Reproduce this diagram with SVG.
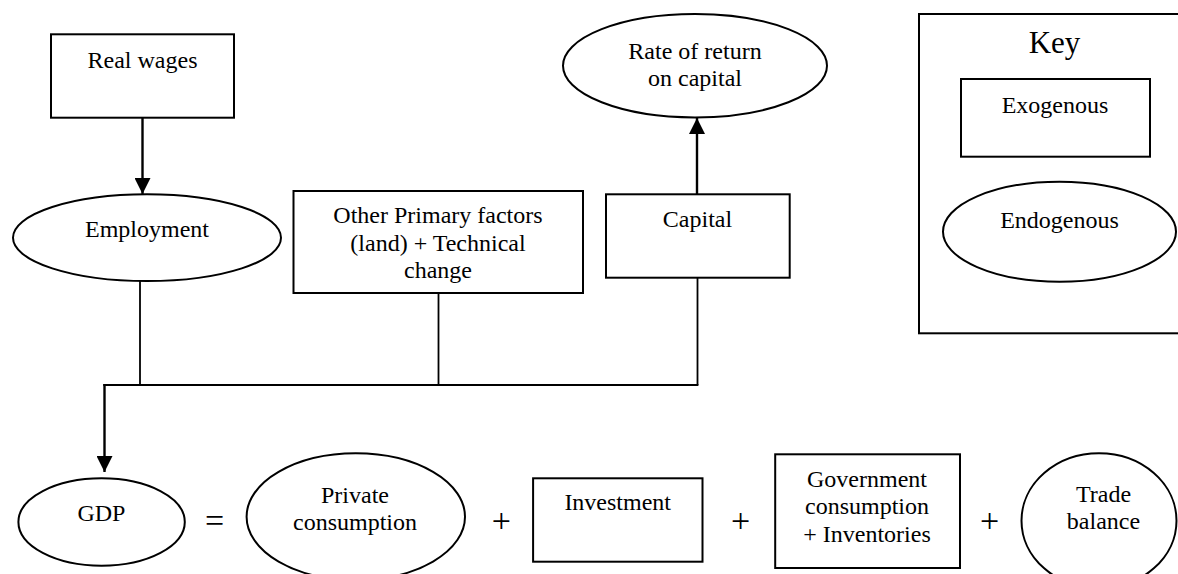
<svg xmlns="http://www.w3.org/2000/svg" width="1178" height="574" viewBox="0 0 1178 574">
  <defs>
    <style>
      .box { fill: #ffffff; stroke: #000000; stroke-width: 2; }
      .lbl { font-family: "Liberation Serif", "Times New Roman", serif; font-size: 24px; fill: #000000; text-anchor: middle; }
      .sign { font-family: "Liberation Serif", "Times New Roman", serif; font-size: 34px; fill: #000000; text-anchor: middle; }
      .key-title { font-family: "Liberation Serif", "Times New Roman", serif; font-size: 31px; fill: #000000; text-anchor: middle; }
      .link { fill: none; stroke: #000000; stroke-width: 1.8; }
      .arrow { fill: none; stroke: #000000; stroke-width: 2.4; }
    </style>
    <marker id="head" markerUnits="userSpaceOnUse" markerWidth="16" markerHeight="16" refX="16" refY="8" orient="auto" viewBox="0 0 16 16">
      <path d="M0,0 L16,8 L0,16 Z" fill="#000000"/>
    </marker>
  </defs>

  <rect width="1178" height="574" fill="#ffffff"/>

  <!-- connectors -->
  <g id="connectors">
    <line class="arrow" x1="142.5" y1="118" x2="142.5" y2="194" marker-end="url(#head)"/>
    <line class="arrow" x1="697" y1="194" x2="697" y2="118" marker-end="url(#head)"/>
    <line class="link" x1="140" y1="281" x2="140" y2="385"/>
    <line class="link" x1="438.5" y1="293" x2="438.5" y2="385"/>
    <line class="link" x1="697.5" y1="277.5" x2="697.5" y2="385"/>
    <line class="link" x1="103.3" y1="385" x2="698.4" y2="385"/>
    <line class="arrow" x1="104.5" y1="384" x2="104.5" y2="472" marker-end="url(#head)"/>
  </g>

  <!-- exogenous and endogenous variables -->
  <g id="real-wages">
    <rect class="box" x="51" y="34.3" width="183" height="83.4"/>
    <text class="lbl" x="142.5" y="68.3">Real wages</text>
  </g>

  <g id="employment">
    <ellipse class="box" cx="147" cy="237.7" rx="134" ry="43.4"/>
    <text class="lbl" x="147" y="237.3">Employment</text>
  </g>

  <g id="other-primary-factors">
    <rect class="box" x="293.5" y="191" width="289.5" height="102"/>
    <text class="lbl" x="438" y="223.3">Other Primary factors</text>
    <text class="lbl" x="438" y="250.7">(land) + Technical</text>
    <text class="lbl" x="438" y="277.7">change</text>
  </g>

  <g id="rate-of-return">
    <ellipse class="box" cx="695" cy="65.7" rx="132" ry="51.7"/>
    <text class="lbl" x="695" y="59.3">Rate of return</text>
    <text class="lbl" x="695" y="86">on capital</text>
  </g>

  <g id="capital">
    <rect class="box" x="606" y="194.3" width="183.7" height="83.4"/>
    <text class="lbl" x="697.5" y="226.7">Capital</text>
  </g>

  <!-- legend -->
  <g id="key">
    <rect class="box" x="919" y="14" width="270" height="319.3"/>
    <text class="key-title" x="1054.5" y="53.3">Key</text>
    <rect class="box" x="961" y="79" width="189" height="77.7"/>
    <text class="lbl" x="1055" y="113.3">Exogenous</text>
    <ellipse class="box" cx="1059.5" cy="231.7" rx="116.5" ry="50"/>
    <text class="lbl" x="1059.5" y="228.3">Endogenous</text>
  </g>

  <!-- GDP identity -->
  <g id="gdp">
    <ellipse class="box" cx="101.6" cy="522" rx="83.2" ry="43.7"/>
    <text class="lbl" x="101.4" y="520.7">GDP</text>
  </g>
  <text class="sign" x="214.5" y="532">=</text>

  <g id="private-consumption">
    <ellipse class="box" cx="355.8" cy="516.7" rx="109.2" ry="63.4"/>
    <text class="lbl" x="355" y="502.7">Private</text>
    <text class="lbl" x="355" y="530">consumption</text>
  </g>
  <text class="sign" x="501.3" y="532">+</text>

  <g id="investment">
    <rect class="box" x="533.1" y="478.3" width="169.4" height="83.4"/>
    <text class="lbl" x="617.7" y="510">Investment</text>
  </g>
  <text class="sign" x="740.7" y="532">+</text>

  <g id="government-consumption">
    <rect class="box" x="775.2" y="454.3" width="184.8" height="113.7"/>
    <text class="lbl" x="867" y="486.7">Government</text>
    <text class="lbl" x="867" y="514.3">consumption</text>
    <text class="lbl" x="867" y="541.7">+ Inventories</text>
  </g>
  <text class="sign" x="989.5" y="532">+</text>

  <g id="trade-balance">
    <ellipse class="box" cx="1099" cy="520.7" rx="77.5" ry="67.4"/>
    <text class="lbl" x="1103.5" y="501.7">Trade</text>
    <text class="lbl" x="1103.5" y="529">balance</text>
  </g>
</svg>
